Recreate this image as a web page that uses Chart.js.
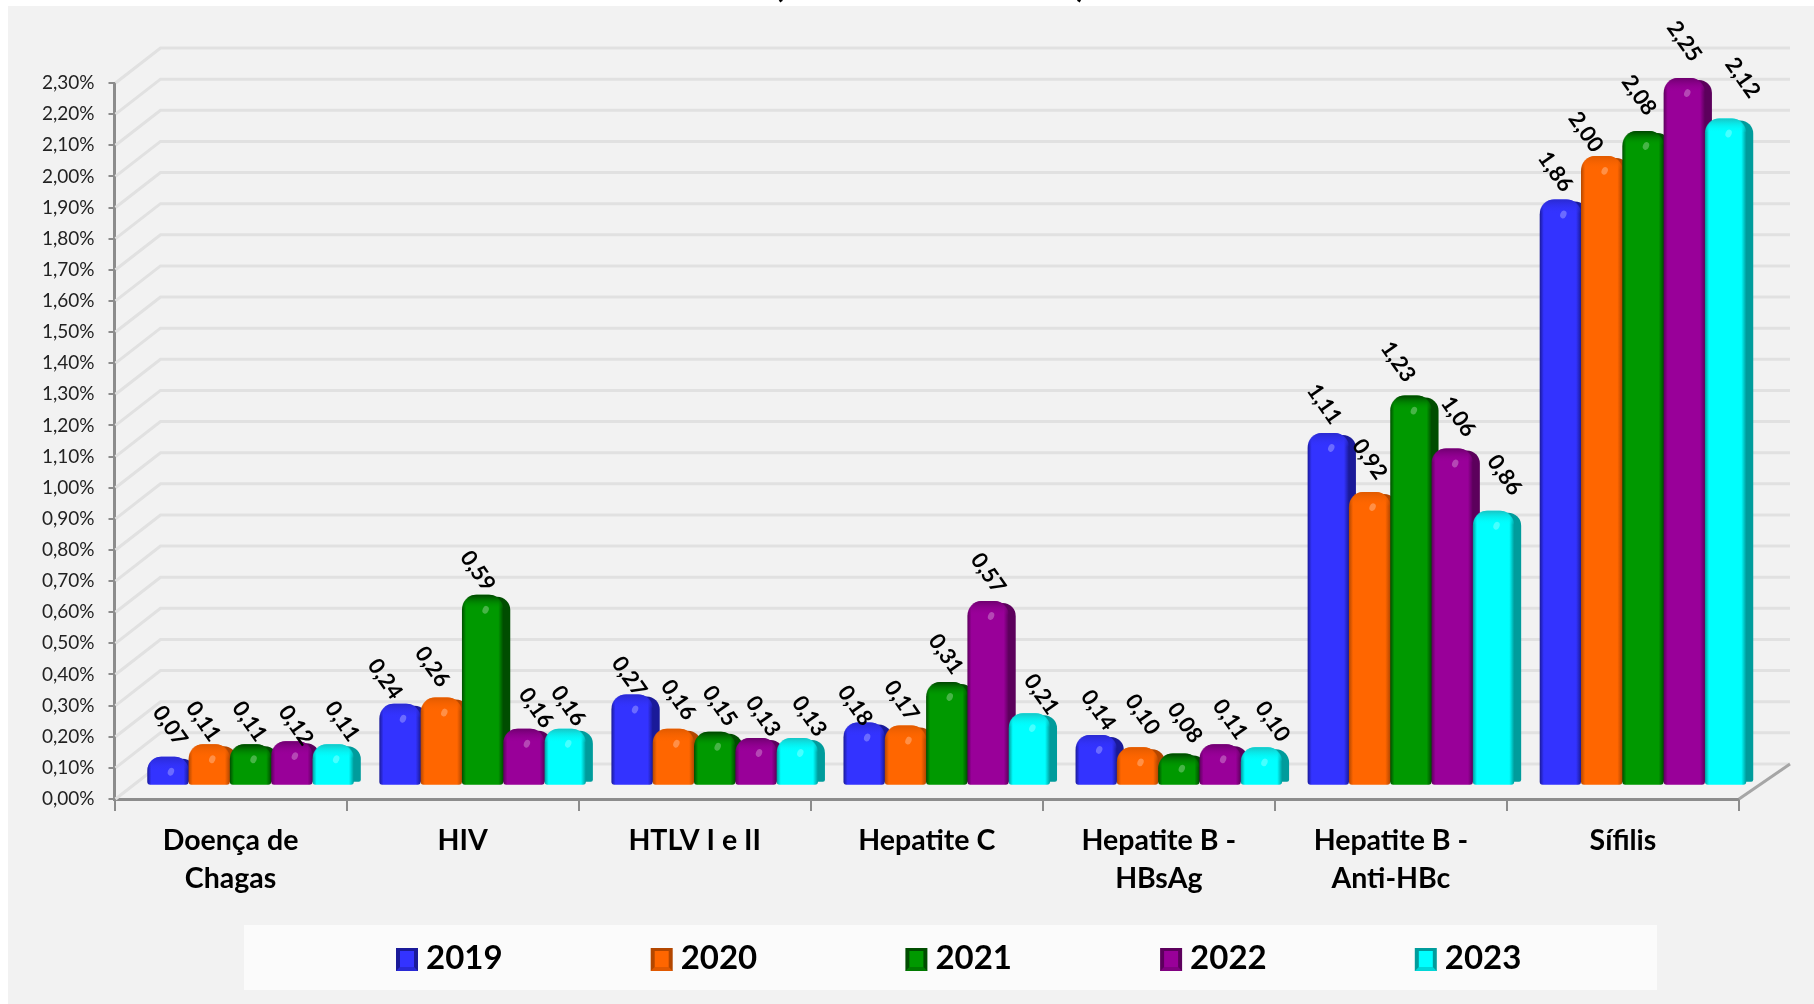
<!DOCTYPE html>
<html>
<head>
<meta charset="utf-8">
<title>Chart</title>
<script src="https://cdn.jsdelivr.net/npm/chart.js"></script>
<style>
  html, body { margin: 0; padding: 0; background: #fff; overflow: hidden; }
  #wrap { width: 1814px; height: 1004px; }
</style>
</head>
<body>
<div id="wrap"><canvas id="chart" width="1814" height="1004"></canvas></div>
<script>
const categories = [["Doença de", "Chagas"], "HIV", "HTLV I e II", "Hepatite C", ["Hepatite B -", "HBsAg"], ["Hepatite B -", "Anti-HBc"], "Sífilis"];
const years = ["2019", "2020", "2021", "2022", "2023"];
const v2019 = [0.07, 0.24, 0.27, 0.18, 0.14, 1.11, 1.86];
const v2020 = [0.11, 0.26, 0.16, 0.17, 0.10, 0.92, 2.00];
const v2021 = [0.11, 0.59, 0.15, 0.31, 0.08, 1.23, 2.08];
const v2022 = [0.12, 0.16, 0.13, 0.57, 0.11, 1.06, 2.25];
const v2023 = [0.11, 0.16, 0.13, 0.21, 0.10, 0.86, 2.12];
const allValues = [v2019, v2020, v2021, v2022, v2023];

const colors = ["#3333ff", "#ff6600", "#009900", "#990099", "#00ffff"];
const sideColors = ["#1a1a99", "#b34700", "#004d00", "#5c005c", "#009c9c"];
const topColors = ["#2a2ad0", "#e05a00", "#004400", "#6e006e", "#18c4c4"];

// the value labels were placed by hand in the original, [dx, dy] per year and category
const labelNudge = [
  [[5, 0], [-12, 6], [0, 13], [-6, 14], [5, 6], [-1, 2], [-2, 3]],
  [[-3, 8], [-6, 0], [8, 2], [-1, 6], [8, -2], [3, -2], [-13, 7]],
  [[2, 8], [-2, 7], [8, 5], [2, 3], [9, 0], [-10, -3], [-1, -5]],
  [[7, 15], [15, 10], [10, 9], [3, 3], [13, 6], [9, -1], [3, -6]],
  [[12, 8], [6, 8], [15, 9], [15, 12], [14, 5], [14, -5], [20, -10]]
];

const FONT = "Lato, 'Open Sans', sans-serif";
const depthX = 46, depthY = 35;   // back wall offset
const barShiftX = 20, barShiftY = -20.5; // bars stand in the middle of the floor
const sideW = 7;

function pct(v) { return v.toFixed(2).replace(".", ",") + "%"; }

function drawLegend(ctx) {
  ctx.fillStyle = "#fbfbfb";
  ctx.fillRect(244, 925, 1413, 65);
  ctx.font = "bold 33px " + FONT;
  ctx.textBaseline = "middle";
  ctx.textAlign = "left";
  years.forEach((y, d) => {
    const x = 396 + d * 254.7, top = 948;
    ctx.fillStyle = sideColors[d];
    ctx.fillRect(x, top, 22, 23);
    ctx.fillStyle = colors[d] + "99";
    ctx.beginPath();
    ctx.moveTo(x, top + 23); ctx.lineTo(x + 22, top + 23); ctx.lineTo(x + 18, top + 19); ctx.lineTo(x + 4, top + 19);
    ctx.fill();
    ctx.fillStyle = colors[d];
    ctx.fillRect(x + 4, top + 3, 14, 16);
    ctx.fillStyle = "#000";
    ctx.fillText(y, x + 30, 958);
  });
}

const scene = {
  id: "scene",
  beforeDraw(chart) {
    const ctx = chart.ctx;
    ctx.save();
    ctx.fillStyle = "#ffffff";
    ctx.fillRect(0, 0, 1814, 1004);
    // bottom of the title brackets, the rest is cut off in the picture
    ctx.fillStyle = "#000";
    ctx.font = "bold 34px " + FONT;
    ctx.textAlign = "center";
    ctx.textBaseline = "alphabetic";
    ctx.fillText("(", 779, -3);
    ctx.fillText(")", 1081, -3);
    ctx.fillStyle = "#f2f2f2";
    ctx.fillRect(8, 6, 1806, 998);
    drawLegend(ctx);
    ctx.restore();
  },
  beforeDatasetsDraw(chart) {
    const ctx = chart.ctx, y = chart.scales.y, a = chart.chartArea;
    ctx.save();
    ctx.strokeStyle = "#e1e1e1";
    ctx.lineWidth = 3;
    y.ticks.forEach((t, i) => {
      const py = y.getPixelForTick(i);
      ctx.beginPath();
      ctx.moveTo(a.left + 1, py);
      ctx.lineTo(a.left + depthX, py - depthY);
      ctx.lineTo(a.right + depthX + 5, py - depthY);
      ctx.stroke();
    });
    // floor edge
    ctx.strokeStyle = "#a6a6a6";
    ctx.beginPath();
    ctx.moveTo(a.right, a.bottom);
    ctx.lineTo(a.right + depthX + 5, a.bottom - depthY);
    ctx.stroke();

    // datasets left to right so each bar covers the side of the one before
    ctx.translate(barShiftX, barShiftY);
    for (let d = 0; d < years.length; d++) {
      const meta = chart.getDatasetMeta(d);
      meta.data.forEach(bar => {
        const w = bar.width, l = bar.x - w / 2;
        ctx.fillStyle = sideColors[d];
        ctx.beginPath();
        ctx.roundRect(l + sideW + 3, bar.y + 2, w - 3, bar.base - bar.y - 5, [13, 13, 2, 2]);
        ctx.fill();
        const g = ctx.createLinearGradient(l, 0, l + w, 0);
        g.addColorStop(0, sideColors[d]);
        g.addColorStop(0.1, colors[d]);
        g.addColorStop(0.88, colors[d]);
        g.addColorStop(1, sideColors[d]);
        bar.options = Object.assign({}, bar.options, { backgroundColor: g });
      });
      meta.controller.draw();
      meta.data.forEach(bar => {
        const w = bar.width, l = bar.x - w / 2;
        // dark rim along the rounded top
        const g = ctx.createLinearGradient(0, bar.y, 0, bar.y + 14);
        g.addColorStop(0, topColors[d]);
        g.addColorStop(1, colors[d] + "00");
        ctx.fillStyle = g;
        ctx.beginPath();
        ctx.roundRect(l, bar.y, w, Math.min(14, bar.base - bar.y), [15, 15, 0, 0]);
        ctx.fill();
        // small highlight
        ctx.fillStyle = "rgba(255,255,255,0.28)";
        ctx.beginPath();
        ctx.ellipse(bar.x + 3, bar.y + 15, 3, 4, 0.4, 0, Math.PI * 2);
        ctx.fill();
      });
    }
    ctx.restore();

    // value labels
    ctx.save();
    ctx.font = "bold 22px " + FONT;
    ctx.fillStyle = "#000";
    ctx.textAlign = "center";
    ctx.textBaseline = "middle";
    for (let d = 0; d < years.length; d++) {
      chart.getDatasetMeta(d).data.forEach((bar, i) => {
        const n = labelNudge[d][i];
        ctx.save();
        ctx.translate(bar.x + barShiftX - 3 + n[0], bar.y + barShiftY - 30.8 + n[1]);
        ctx.rotate(55 * Math.PI / 180);
        ctx.fillText(allValues[d][i].toFixed(2).replace(".", ","), 0, 0);
        ctx.restore();
      });
    }
    ctx.restore();
    return false;
  }
};

new Chart(document.getElementById("chart"), {
  type: "bar",
  data: {
    labels: categories,
    datasets: allValues.map((vals, d) => ({
      label: years[d],
      data: vals,
      base: -0.02,
      backgroundColor: colors[d],
      borderRadius: { topLeft: 15, topRight: 15, bottomLeft: 3, bottomRight: 3 },
      borderSkipped: false,
      categoryPercentage: 0.89,
      barPercentage: 1
    }))
  },
  options: {
    responsive: false,
    animation: false,
    layout: { padding: { left: 0, right: 75, top: 83, bottom: 0 } },
    scales: {
      x: {
        grid: { drawOnChartArea: false, drawTicks: true, tickLength: 12, color: "#8c8c8c", lineWidth: 2 },
        border: { color: "#8c8c8c", width: 3 },
        ticks: { font: { family: FONT, size: 28.5, weight: "bold", lineHeight: 1.33 }, color: "#000", maxRotation: 0, autoSkip: false, padding: 11 },
        afterFit(s) { s.height = 205; }
      },
      y: {
        min: 0,
        max: 2.3,
        ticks: { stepSize: 0.1, callback: v => pct(v), font: { family: FONT, size: 19 }, color: "#222", padding: 14, autoSkip: false },
        grid: { drawOnChartArea: false, drawTicks: true, tickLength: 6, color: "#8c8c8c", lineWidth: 2 },
        border: { color: "#8c8c8c", width: 3 },
        afterFit(s) { s.width = 114.5; }
      }
    },
    plugins: {
      tooltip: { enabled: false },
      legend: { display: false }
    }
  },
  plugins: [scene]
});
</script>
</body>
</html>
